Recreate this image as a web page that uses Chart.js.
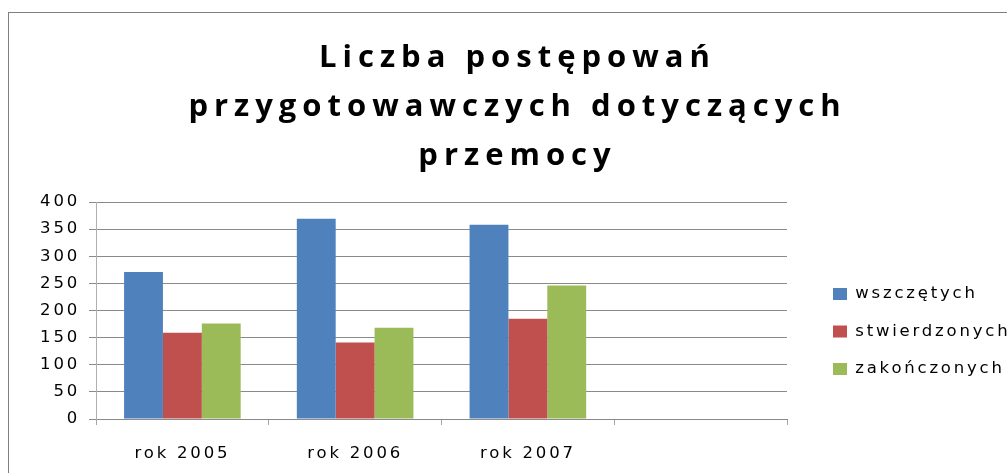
<!DOCTYPE html>
<html>
<head>
<meta charset="utf-8">
<script src="https://cdn.jsdelivr.net/npm/chart.js@4/dist/chart.umd.min.js"></script>
<style>
html,body{margin:0;padding:0;background:#fff;overflow:hidden;width:1007px;height:473px}
#frame{position:absolute;left:8px;top:12px;width:1100px;height:600px;border:1.5px solid #808080;box-sizing:border-box}
#wrap{position:absolute;left:0;top:0;width:1007px;height:473px}
</style>
</head>
<body>
<div id="frame"></div>
<div id="wrap"><canvas id="c"></canvas></div>
<script>
const categories = ['rok 2005', 'rok 2006', 'rok 2007', ''];
const seriesNames = ['wszczętych', 'stwierdzonych', 'zakończonych'];
const wszczetych = [271, 369, 358];
const stwierdzonych = [159, 141, 185];
const zakonczonych = [176, 168, 246];
const seriesColors = ['#4F81BD', '#C0504D', '#9BBB59'];
const titleLines = ['Liczba postępowań', 'przygotowawczych dotyczących', 'przemocy'];
const yMin = 0, yMax = 400, yStep = 50;

Chart.defaults.font.family = "'DejaVu Sans', sans-serif";
Chart.defaults.color = '#000';

const spacingPlugin = {
  id: 'spacing',
  beforeLayout(chart) { chart.ctx.letterSpacing = '2.8px'; },
  beforeDraw(chart) {
    chart.ctx.letterSpacing = '2.8px';
    const t = chart.titleBlock;
    if (t && !t._lsWrapped) {
      const d = t.draw;
      t.draw = function () {
        const c = this.ctx; const prev = c.letterSpacing;
        c.letterSpacing = '6px';
        d.apply(this, arguments);
        c.letterSpacing = prev;
      };
      t._lsWrapped = true;
    }
    const l = chart.legend;
    if (l && !l._shWrapped) {
      const d = l.draw;
      l.draw = function () {
        const c = this.ctx;
        c.save(); c.translate(25, 0);
        d.apply(this, arguments);
        c.restore();
      };
      l._shWrapped = true;
    }
  }
};

const seriesData = [wszczetych, stwierdzonych, zakonczonych];

new Chart(document.getElementById('c'), {
  type: 'bar',
  data: {
    labels: categories,
    datasets: seriesNames.map((name, i) => ({
      label: name,
      data: seriesData[i],
      backgroundColor: seriesColors[i],
      borderWidth: 0,
      barPercentage: 1,
      categoryPercentage: 0.675
    }))
  },
  options: {
    responsive: true,
    maintainAspectRatio: false,
    animation: false,
    layout: { padding: { left: 28, right: 0, top: 0, bottom: 10 } },
    plugins: {
      title: {
        display: true,
        text: titleLines,
        color: '#000',
        font: { family: "'Open Sans', sans-serif", size: 31, weight: 'bold', lineHeight: 49 / 31 },
        padding: { top: 34, bottom: 21 }
      },
      legend: {
        position: 'right',
        align: 'center',
        fullSize: false,
        labels: { boxWidth: 14, boxHeight: 12, padding: 21, font: { size: 16.5 }, color: '#000' },
        title: { display: true, text: ' ', padding: { top: 40, bottom: 0 }, font: { size: 2, lineHeight: 1 } }
      },
      tooltip: { enabled: false }
    },
    scales: {
      x: {
        grid: { display: true, drawOnChartArea: false, drawTicks: true, tickLength: 6, color: '#a6a6a6', offset: true },
        border: { display: true, color: '#8a8a8a' },
        ticks: { padding: 19, font: { size: 16.5 }, color: '#000', maxRotation: 0, autoSkip: false },
        afterFit(s) { s.paddingRight = 220; s.height = 44; }
      },
      y: {
        min: yMin, max: yMax,
        ticks: { stepSize: yStep, padding: 9, font: { size: 16.5 }, color: '#000' },
        grid: { color: '#8a8a8a', tickLength: 7 },
        border: { color: '#b0b0b0' },
        afterFit(s) { s.width = 68; }
      }
    }
  },
  plugins: [spacingPlugin]
});
</script>
</body>
</html>
